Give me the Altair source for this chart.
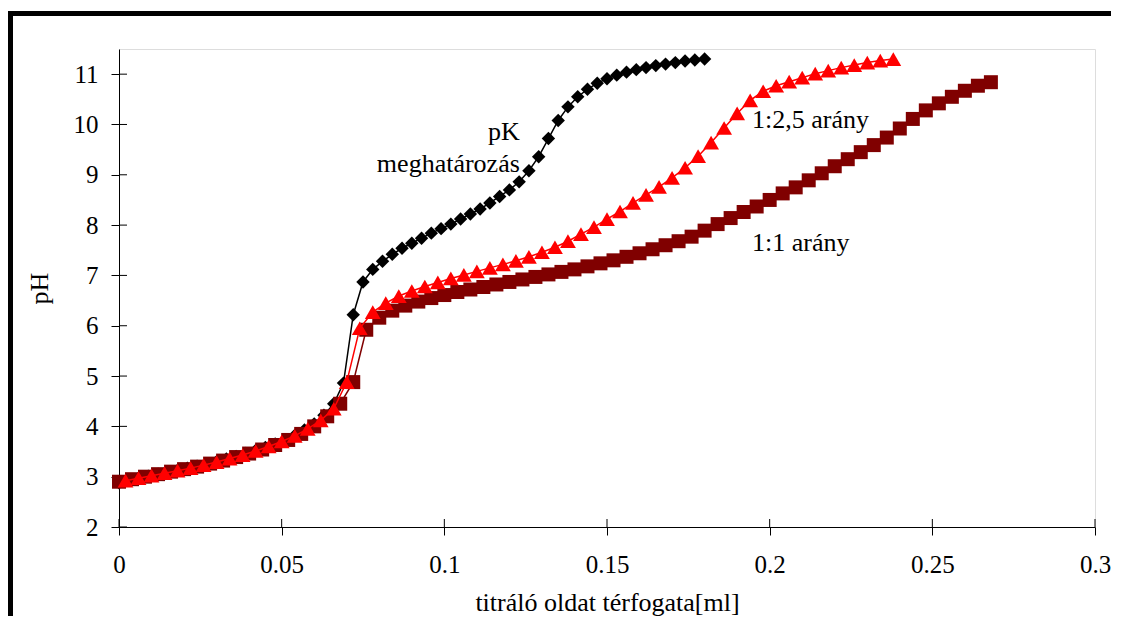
import altair as alt
import pandas as pd

# ---- data ----
pk_v = [0, 0.003, 0.006, 0.009, 0.012, 0.015, 0.018, 0.021, 0.024, 0.027, 0.030,
        0.033, 0.036, 0.039, 0.042, 0.045, 0.048, 0.051, 0.054, 0.057, 0.060,
        0.063, 0.066, 0.069, 0.072, 0.075, 0.078, 0.081, 0.084, 0.087, 0.090,
        0.093, 0.096, 0.099, 0.102, 0.105, 0.108, 0.111, 0.114, 0.117, 0.120,
        0.123, 0.126, 0.129, 0.132, 0.135, 0.138, 0.141, 0.144, 0.147, 0.150,
        0.153, 0.156, 0.159, 0.162, 0.165, 0.168, 0.171, 0.174, 0.177, 0.180]
pk_ph = [2.88, 2.93, 2.97, 3.01, 3.05, 3.09, 3.13, 3.17, 3.21, 3.26, 3.30,
         3.35, 3.40, 3.46, 3.52, 3.58, 3.65, 3.73, 3.82, 3.93, 4.05,
         4.22, 4.45, 4.86, 6.22, 6.87, 7.12, 7.28, 7.42, 7.54, 7.64,
         7.74, 7.84, 7.93, 8.02, 8.12, 8.22, 8.32, 8.44, 8.57, 8.70,
         8.86, 9.08, 9.36, 9.72, 10.08, 10.35, 10.55, 10.70, 10.82, 10.91,
         10.98, 11.04, 11.09, 11.13, 11.17, 11.20, 11.23, 11.26, 11.28, 11.30]

r25_v = [0.002, 0.006, 0.010, 0.014, 0.018, 0.022, 0.026, 0.030, 0.034, 0.038,
         0.042, 0.046, 0.050, 0.054, 0.058, 0.062, 0.066, 0.070, 0.074, 0.078,
         0.082, 0.086, 0.090, 0.094, 0.098, 0.102, 0.106, 0.110, 0.114, 0.118,
         0.122, 0.126, 0.130, 0.134, 0.138, 0.142, 0.146, 0.150, 0.154, 0.158,
         0.162, 0.166, 0.170, 0.174, 0.178, 0.182, 0.186, 0.190, 0.194, 0.198,
         0.202, 0.206, 0.210, 0.214, 0.218, 0.222, 0.226, 0.230, 0.234, 0.238]
r25_ph = [2.92, 2.97, 3.02, 3.07, 3.12, 3.17, 3.23, 3.29, 3.36, 3.43,
          3.51, 3.60, 3.70, 3.81, 3.95, 4.12, 4.35, 4.88, 5.95, 6.27,
          6.45, 6.59, 6.69, 6.78, 6.86, 6.94, 7.01, 7.08, 7.15, 7.22,
          7.29, 7.37, 7.46, 7.56, 7.68, 7.82, 7.96, 8.12, 8.27, 8.44,
          8.60, 8.76, 8.94, 9.14, 9.37, 9.64, 9.93, 10.22, 10.48, 10.66,
          10.77, 10.85, 10.93, 11.01, 11.07, 11.13, 11.18, 11.23, 11.27, 11.30]

r11_v = [0, 0.004, 0.008, 0.012, 0.016, 0.020, 0.024, 0.028, 0.032, 0.036,
         0.040, 0.044, 0.048, 0.052, 0.056, 0.060, 0.064, 0.068, 0.072, 0.076,
         0.080, 0.084, 0.088, 0.092, 0.096, 0.100, 0.104, 0.108, 0.112, 0.116,
         0.120, 0.124, 0.128, 0.132, 0.136, 0.140, 0.144, 0.148, 0.152, 0.156,
         0.160, 0.164, 0.168, 0.172, 0.176, 0.180, 0.184, 0.188, 0.192, 0.196,
         0.200, 0.204, 0.208, 0.212, 0.216, 0.220, 0.224, 0.228, 0.232, 0.236,
         0.240, 0.244, 0.248, 0.252, 0.256, 0.260, 0.264, 0.268]
r11_ph = [2.90, 2.95, 3.00, 3.05, 3.10, 3.15, 3.20, 3.26, 3.32, 3.39,
          3.46, 3.54, 3.63, 3.73, 3.85, 4.00, 4.20, 4.45, 4.88, 5.92,
          6.16, 6.30, 6.40, 6.48, 6.55, 6.61, 6.67, 6.72, 6.77, 6.82,
          6.87, 6.92, 6.97, 7.02, 7.07, 7.12, 7.18, 7.24, 7.30, 7.37,
          7.44, 7.52, 7.60, 7.68, 7.77, 7.89, 8.02, 8.14, 8.26, 8.37,
          8.50, 8.63, 8.75, 8.89, 9.03, 9.17, 9.31, 9.45, 9.59, 9.74,
          9.92, 10.11, 10.28, 10.42, 10.55, 10.67, 10.77, 10.84]

x_ticks = [0, 0.05, 0.1, 0.15, 0.2, 0.25, 0.3]
y_ticks = [2, 3, 4, 5, 6, 7, 8, 9, 10, 11]

ann_right_labels = ["pK", "meghatározás"]
ann_right_v = [0.1232, 0.1232]
ann_right_ph = [9.69, 9.05]
ann_left_labels = ["1:2,5 arány", "1:1 arány"]
ann_left_v = [0.1946, 0.1946]
ann_left_ph = [9.93, 7.48]

# ---- layout ----
W, H = 976, 478
PAD = {"left": 111, "top": 41, "right": 19, "bottom": 92}
FONT = "Liberation Serif"

xscale = alt.Scale(domain=[0, 0.3], nice=False, zero=False)
yscale = alt.Scale(domain=[2, 11.5], nice=False, zero=False)

xaxis = alt.Axis(values=x_ticks, format="~g", grid=False, tickSize=8, tickColor="black",
                 tickWidth=1, domainColor="black", domainWidth=1,
                 labelFont=FONT, labelFontSize=25, labelColor="black", labelPadding=17,
                 labelFlush=False, labelOverlap=False, labelBound=False,
                 title="titráló oldat térfogata[ml]", titleFont=FONT, titleFontSize=26,
                 titleFontWeight="normal", titleColor="black", titlePadding=12)
yaxis = alt.Axis(values=y_ticks, grid=False, tickSize=8, tickColor="black",
                 tickWidth=1, domainColor="black", domainWidth=1,
                 labelFont=FONT, labelFontSize=25, labelColor="black", labelPadding=13,
                 labelFlush=False, labelOverlap=False, labelBound=False,
                 title="pH", titleFont=FONT, titleFontSize=26,
                 titleFontWeight="normal", titleColor="black", titlePadding=21)

X = alt.X("V:Q", scale=xscale, axis=xaxis)
Y = alt.Y("pH:Q", scale=yscale, axis=yaxis)


def series(v, ph, color, shape, size):
    df = pd.DataFrame({"V": v, "pH": ph})
    base = alt.Chart(df).encode(x=X, y=Y)
    line = base.mark_line(color=color, strokeWidth=1.5)
    pts = base.mark_point(shape=shape, filled=True, fill=color, color=color,
                          size=size, opacity=1, strokeWidth=0)
    return [line, pts]


layers = []
layers += series(pk_v, pk_ph, "#000000", "diamond", 180)
layers += series(r11_v, r11_ph, "#800000", "square", 196)
layers += series(r25_v, r25_ph, "#FF0000", "triangle-up", 250)

# inward halves of the crossing tick marks
ytick_in = alt.Chart(pd.DataFrame({"pH": y_ticks})).mark_rule(color="black", strokeWidth=1).encode(
    y=Y, x=alt.value(0), x2=alt.value(8))
xtick_in = alt.Chart(pd.DataFrame({"V": x_ticks})).mark_rule(color="black", strokeWidth=1).encode(
    x=X, y=alt.value(H), y2=alt.value(H - 8))

ann_r = alt.Chart(pd.DataFrame({"V": ann_right_v, "pH": ann_right_ph, "label": ann_right_labels})).mark_text(
    font=FONT, fontSize=26, color="black", align="right", baseline="alphabetic").encode(
    x=X, y=Y, text="label:N")
ann_l = alt.Chart(pd.DataFrame({"V": ann_left_v, "pH": ann_left_ph, "label": ann_left_labels})).mark_text(
    font=FONT, fontSize=26, color="black", align="left", baseline="alphabetic").encode(
    x=X, y=Y, text="label:N")

# outer frame: only its top and left edges fall inside the picture
right_edge = W + PAD["right"] - 3
bottom_edge = H + PAD["bottom"] - 3
frame_top = alt.Chart(alt.Data(values=[{}])).mark_rule(color="black", strokeWidth=5).encode(
    x=alt.value(-111), x2=alt.value(right_edge), y=alt.value(-35.5))
frame_left = alt.Chart(alt.Data(values=[{}])).mark_rule(color="black", strokeWidth=5).encode(
    x=alt.value(-108.5), y=alt.value(-38), y2=alt.value(bottom_edge))

chart = alt.layer(frame_top, frame_left, ytick_in, xtick_in, *layers, ann_r, ann_l).properties(
    width=W, height=H,
    autosize=alt.AutoSizeParams(type="none"),
    padding=PAD,
).configure_view(stroke=None).configure(background="white")

chart.save("out.html", embed_options={"renderer": "svg", "actions": False})
